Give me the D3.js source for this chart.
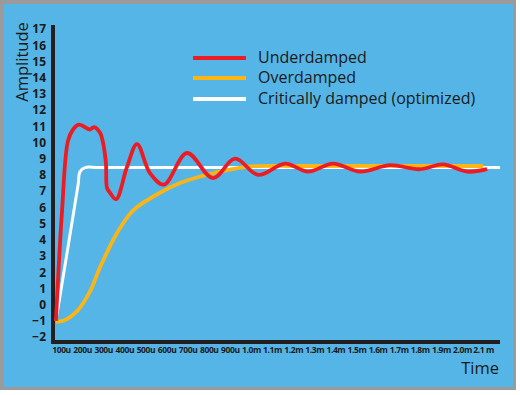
<!DOCTYPE html>
<html>
<head>
<meta charset="utf-8">
<script src="https://cdn.jsdelivr.net/npm/d3@7"></script>
<style>
  body { margin: 0; background: #fff; }
  text { font-family: "Open Sans", sans-serif; }
</style>
</head>
<body>
<div id="chart"></div>
<script>
// tick values (time in microseconds) and their labels
const tickTimes = [100, 200, 300, 400, 500, 600, 700, 800, 900, 1000, 1100,
                   1200, 1300, 1400, 1500, 1600, 1700, 1800, 1900, 2000, 2100];
const tickLabels = ["100u", "200u", "300u", "400u", "500u", "600u", "700u", "800u", "900u",
                    "1.0m", "1.1m", "1.2m", "1.3m", "1.4m", "1.5m", "1.6m", "1.7m",
                    "1.8m", "1.9m", "2.0m", "2.1 m"];
const ampTicks = d3.range(-2, 18);

// series: [time (us), amplitude]
const underdamped = [
    [76, -1.0], [105, 5.8], [133, 10.1], [157, 10.8], [185, 11.1], [237, 10.8],
    [256, 10.95], [285, 10.6], [299, 10.0], [313, 8.7], [318, 7.2], [332, 6.9],
    [361, 6.5], [413, 8.5], [460, 9.9], [522, 8.1], [588, 7.4], [697, 9.35],
    [820, 7.8], [925, 9.0], [1034, 8.0], [1162, 8.7], [1271, 8.2], [1389, 8.7],
    [1517, 8.2], [1659, 8.6], [1801, 8.35], [1910, 8.65], [2024, 8.2], [2119, 8.35]
];
const overdamped = [
    [76, -1.05], [110, -1.0], [176, -0.4], [237, 0.8], [285, 2.3], [365, 4.4],
    [441, 5.8], [569, 6.9], [664, 7.5], [820, 8.1], [981, 8.5], [1233, 8.55], [2100, 8.55]
];
const critical = [
    [76, -1.0], [181, 7.4], [190, 8.2], [214, 8.45], [285, 8.45], [2180, 8.45]
];

const seriesNames = ["Underdamped", "Overdamped", "Critically damped (optimized)"];
const seriesColors = ["#ec1c24", "#fdb515", "#ffffff"];

const width = 520, height = 395;

const svg = d3.select("#chart").append("svg")
    .attr("width", width)
    .attr("height", height);

// frame
svg.append("rect")
    .attr("x", 0).attr("y", 0)
    .attr("width", 516).attr("height", 390)
    .attr("fill", "#9a9a9a");
svg.append("rect")
    .attr("x", 4).attr("y", 4)
    .attr("width", 509).attr("height", 383)
    .attr("fill", "#55b5e6");

const x = d3.scaleLinear().domain([100, 2000]).range([61, 462]);
const y = d3.scaleLinear().domain([-2, 17]).range([337, 29]);

// y tick labels
svg.append("g")
    .attr("transform", "translate(46,0)")
    .call(d3.axisLeft(y).tickValues(ampTicks).tickSize(0).tickPadding(0).tickFormat(d3.format("d")))
    .call(g => g.select(".domain").remove())
    .selectAll("text")
    .attr("fill", "#1a1a1a")
    .style("font-size", "12px")
    .style("font-weight", "bold")
    .style("font-family", "'Open Sans', sans-serif");

// x tick labels
svg.append("g")
    .attr("transform", "translate(0,347)")
    .call(d3.axisBottom(x).tickValues(tickTimes).tickSize(0).tickPadding(0)
        .tickFormat((d, i) => tickLabels[i]))
    .call(g => g.select(".domain").remove())
    .selectAll("text")
    .attr("fill", "#1a1a1a")
    .style("font-size", "8.5px")
    .style("font-weight", "bold")
    .style("letter-spacing", "-0.4px")
    .style("font-family", "'Open Sans', sans-serif");

// axis lines
svg.append("line")
    .attr("x1", 53).attr("x2", 53).attr("y1", 25).attr("y2", 344)
    .attr("stroke", "#231f20").attr("stroke-width", 4);
svg.append("line")
    .attr("x1", 51).attr("x2", 500).attr("y1", 342).attr("y2", 342)
    .attr("stroke", "#231f20").attr("stroke-width", 4);

// axis titles
svg.append("text")
    .attr("transform", "translate(28,62) rotate(-90)")
    .attr("text-anchor", "middle")
    .attr("fill", "#1a1a1a")
    .style("font-size", "16.5px")
    .text("Amplitude");
svg.append("text")
    .attr("x", 499).attr("y", 374)
    .attr("text-anchor", "end")
    .attr("fill", "#1a1a1a")
    .style("font-size", "16.5px")
    .text("Time");

const line = d3.line()
    .x(d => x(d[0]))
    .y(d => y(d[1]))
    .curve(d3.curveCatmullRom.alpha(0.5));

// draw order: white, orange, red on top
[[critical, 2, 3], [overdamped, 1, 3.8], [underdamped, 0, 3.8]].forEach(([data, i, w]) => {
    svg.append("path")
        .datum(data)
        .attr("fill", "none")
        .attr("stroke", seriesColors[i])
        .attr("stroke-width", w)
        .attr("stroke-linejoin", "round")
        .attr("d", line);
});

// legend
const legend = svg.append("g");
seriesNames.forEach((name, i) => {
    let ly = [58, 78, 99][i];
    legend.append("line")
        .attr("x1", 193).attr("x2", 246)
        .attr("y1", ly).attr("y2", ly)
        .attr("stroke", seriesColors[i])
        .attr("stroke-width", 4);
    legend.append("text")
        .attr("x", 258).attr("y", ly + 5)
        .attr("fill", "#1a1a1a")
        .style("font-size", "16px")
        .style("font-weight", 500)
        .text(name);
});
</script>
</body>
</html>
